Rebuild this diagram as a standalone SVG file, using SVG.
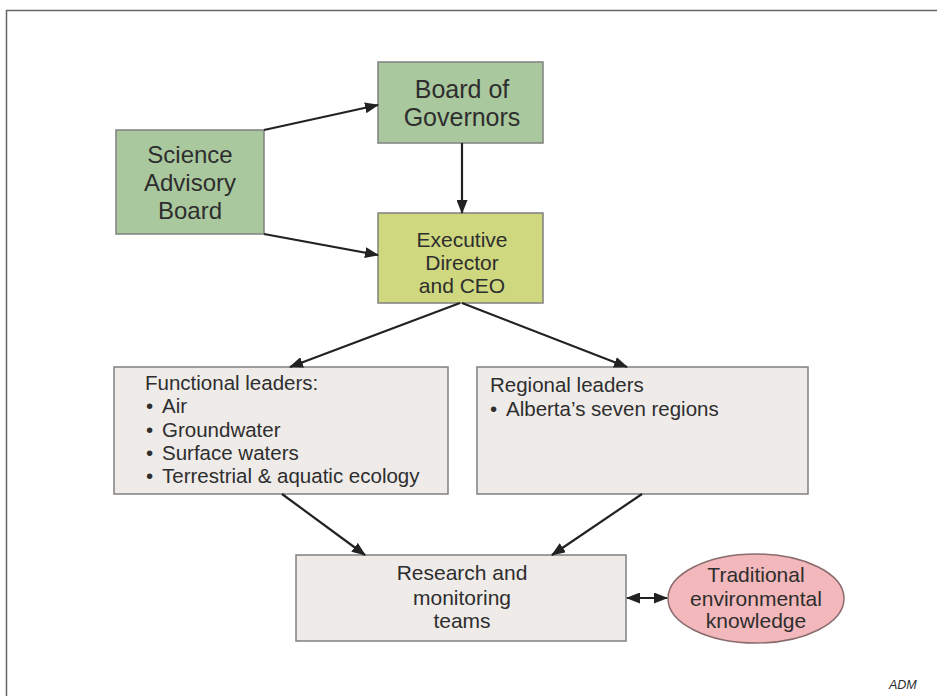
<svg xmlns="http://www.w3.org/2000/svg" width="937" height="696" viewBox="0 0 937 696">
<style>
.box{stroke:#808080;stroke-width:1.5}
.green{fill:#aac89e}
.yellow{fill:#cfd87f}
.gray{fill:#eeebe9}
.pink{fill:#f2b8bb;stroke:#8a6b6d;stroke-width:1.5}
.t{font-family:"Liberation Sans",Arial,sans-serif;fill:#2e2e2e}
.c{text-anchor:middle}
.conn{stroke:#222;stroke-width:2.2;fill:none}
</style>
<defs>
<marker id="ah" viewBox="0 0 14 11" refX="13" refY="5.5" markerWidth="14" markerHeight="11" markerUnits="userSpaceOnUse" orient="auto-start-reverse">
<path d="M0,0 L14,5.5 L0,11 z" fill="#222"/>
</marker>
</defs>
<rect width="937" height="696" fill="#fff"/>
<path d="M6.5,696 V10.5 H937" fill="none" stroke="#666" stroke-width="1.5"/>

<g id="board-of-governors">
<rect class="box green" x="378" y="62" width="165" height="81"/>
<text class="t c" font-size="25" x="462" y="98">Board of</text>
<text class="t c" font-size="25" x="462" y="126">Governors</text>
</g>
<g id="science-advisory-board">
<rect class="box green" x="116" y="130" width="148" height="104"/>
<text class="t c" font-size="24" x="190" y="163">Science</text>
<text class="t c" font-size="24" x="190" y="191">Advisory</text>
<text class="t c" font-size="24" x="190" y="219">Board</text>
</g>
<g id="executive-director">
<rect class="box yellow" x="378" y="213" width="165" height="90"/>
<text class="t c" font-size="21" x="462" y="247">Executive</text>
<text class="t c" font-size="21" x="462" y="270">Director</text>
<text class="t c" font-size="21" x="462" y="293">and CEO</text>
</g>
<g id="functional-leaders">
<rect class="box gray" x="114" y="367" width="334" height="127"/>
<text class="t" font-size="20.5" x="145" y="390">Functional leaders:</text>
<text class="t" font-size="20.5" x="146" y="413">•</text><text class="t" font-size="20.5" x="162" y="413">Air</text>
<text class="t" font-size="20.5" x="146" y="437">•</text><text class="t" font-size="20.5" x="162" y="437">Groundwater</text>
<text class="t" font-size="20.5" x="146" y="460">•</text><text class="t" font-size="20.5" x="162" y="460">Surface waters</text>
<text class="t" font-size="20.5" x="146" y="483">•</text><text class="t" font-size="20.5" x="162" y="483">Terrestrial &amp; aquatic ecology</text>
</g>
<g id="regional-leaders">
<rect class="box gray" x="477" y="367" width="331" height="127"/>
<text class="t" font-size="20.5" x="490" y="392">Regional leaders</text>
<text class="t" font-size="20.5" x="490" y="416">•</text><text class="t" font-size="20.5" x="506" y="416">Alberta’s seven regions</text>
</g>
<g id="research-teams">
<rect class="box gray" x="296" y="555" width="330" height="86"/>
<text class="t c" font-size="21" x="462" y="580">Research and</text>
<text class="t c" font-size="21" x="462" y="605">monitoring</text>
<text class="t c" font-size="21" x="462" y="628">teams</text>
</g>
<g id="traditional-knowledge">
<ellipse class="pink" cx="756" cy="598.5" rx="88" ry="44.5"/>
<text class="t c" font-size="21" x="756" y="582">Traditional</text>
<text class="t c" font-size="21" x="756" y="606">environmental</text>
<text class="t c" font-size="21" x="756" y="628">knowledge</text>
</g>

<g id="connectors">
<line class="conn" x1="264" y1="130" x2="378" y2="105" marker-end="url(#ah)"/>
<line class="conn" x1="264" y1="234" x2="378" y2="255" marker-end="url(#ah)"/>
<line class="conn" x1="462" y1="143" x2="462" y2="213" marker-end="url(#ah)"/>
<line class="conn" x1="460" y1="303" x2="290" y2="367" marker-end="url(#ah)"/>
<line class="conn" x1="462" y1="303" x2="627" y2="367" marker-end="url(#ah)"/>
<line class="conn" x1="282" y1="494" x2="365" y2="555" marker-end="url(#ah)"/>
<line class="conn" x1="642" y1="494" x2="552" y2="555" marker-end="url(#ah)"/>
<line class="conn" x1="627" y1="598" x2="667" y2="598" marker-start="url(#ah)" marker-end="url(#ah)"/>
</g>

<text class="t" font-size="12.5" font-style="italic" x="889" y="689" fill="#444">ADM</text>
</svg>
